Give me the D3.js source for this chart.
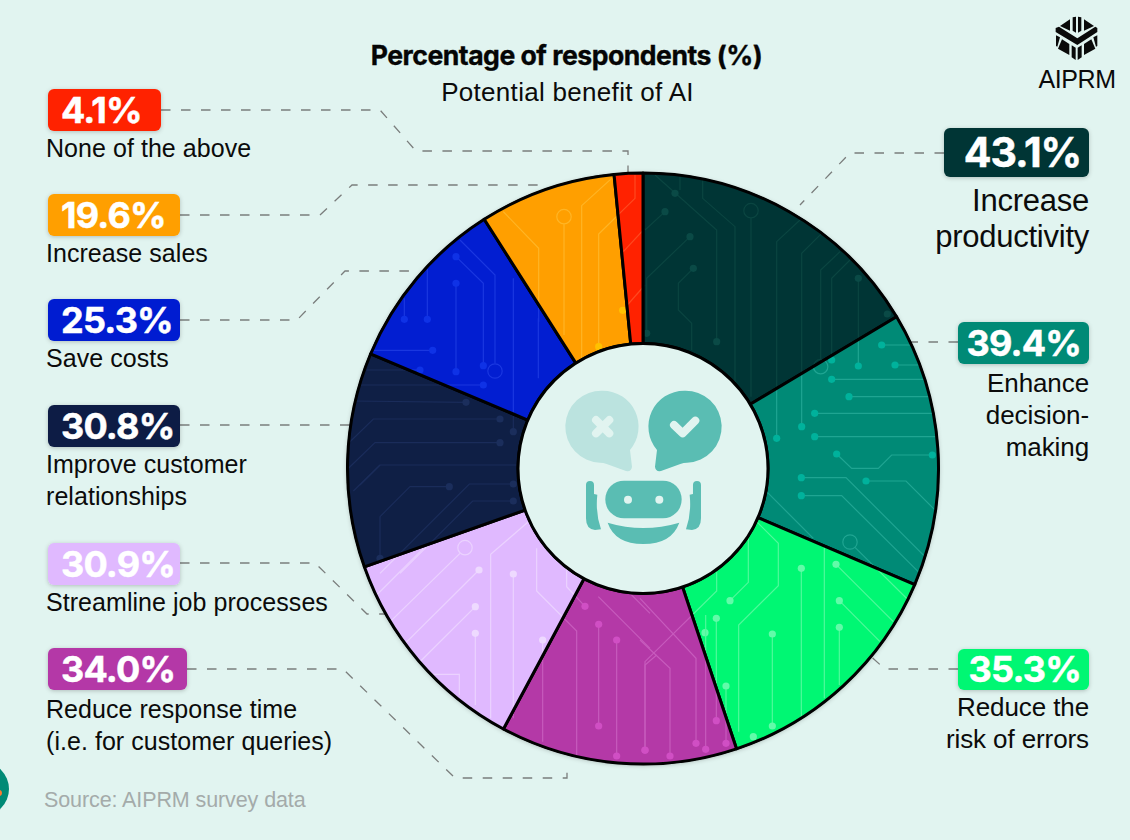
<!DOCTYPE html>
<html><head><meta charset="utf-8">
<script src="https://cdn.jsdelivr.net/npm/d3@7"></script>
<style>
html,body{margin:0;padding:0;background:#E1F4F0;}
svg{display:block;}
.lab{font-family:"Liberation Sans",sans-serif;fill:#0b0b0b;}
.val{font-family:Inter,sans-serif;font-weight:700;fill:#fff;stroke:#fff;stroke-width:.5;}
</style></head><body>
<svg id="c" width="1130" height="840"></svg>
<script>
// ---------- data ----------
const categories = ["Increase productivity","Enhance decision-making","Reduce the risk of errors",
  "Reduce response time (i.e. for customer queries)","Streamline job processes",
  "Improve customer relationships","Save costs","Increase sales","None of the above"];
const values = [43.1,39.4,35.3,34.0,30.9,30.8,25.3,19.6,4.1];
const labelLines = [["Increase","productivity"],["Enhance","decision-","making"],["Reduce the","risk of errors"],
  ["Reduce response time","(i.e. for customer queries)"],["Streamline job processes"],
  ["Improve customer","relationships"],["Save costs"],["Increase sales"],["None of the above"]];
const colors = ["#003535","#008A76","#00F773","#B439A7","#E0B9FF","#0F1F45","#021ED1","#FF9F00","#FF2200"];
const tintLine = ["#0A4541","#1FA592","#4FF99B","#C75BBD","#EBD2FF","#1A2C5A","#1A37E0","#FFB525","#FF4A20"];
const tintDot  = ["#0A4A46","#00B29C","#62FBA9","#D04FC4","#EEDAFF","#1B2E5C","#0F32E6","#FFC100","#FF4A20"];

// ---------- layout (annotation geometry, not data) ----------
const W=1130,H=840,cx=643,cy=468.5,R=295.5,r0=125;
const badges = [ // same order as categories
 {x:944,y:128,w:145,h:49,fs:41,right:true,ls:-1.1,lfs:31,lls:-.25,base:[211,247]},
 {x:958,y:322,w:131,h:42,fs:36,right:true,ls:-.8,lfs:26,lls:-.1,base:[392,424,456]},
 {x:958,y:649,w:131,h:41,fs:36,right:true,ls:-.8,lfs:26,lls:-.1,base:[716,748]},
 {x:48,y:648,w:139,h:42,fs:36,ls:-.8,lfs:25,lls:.05,base:[718,750]},
 {x:48,y:543,w:132,h:42,fs:36,ls:-.8,lfs:25,lls:.05,base:[611]},
 {x:48,y:405,w:132,h:42,fs:36,ls:-.8,lfs:25,lls:.05,base:[473,505]},
 {x:48,y:299,w:132,h:42,fs:36,ls:-.8,lfs:25,lls:.05,base:[367]},
 {x:48,y:194,w:132,h:42,fs:36,ls:-.8,lfs:25,lls:.05,base:[262]},
 {x:48,y:89,w:113,h:42,fs:36,ls:-.8,lfs:25,lls:.05,base:[157]}
];
const leaders = [
 [[944,153],[850,153],[800,205]],
 [[958,342],[908,342]],
 [[958,669],[885,669],[868,654]],
 [[187,669],[343,669],[455,778],[567,778],[567,765]],
 [[180,563],[315,563],[367,614],[392,614]],
 [[180,425],[352,425]],
 [[180,320],[297,320],[345,271],[415,271]],
 [[180,215],[320,215],[352,185],[545,185]],
 [[161,110],[380,110],[416,151],[628,151],[628,172]]
];
const O3=[640,170],O5=[340,165],O6=[340,465],O7=[640,465];
const traces=[
 [O3,[[45,15],[230,180],[230,515]],0,1],[O3,[[120,0],[120,60]],0,0],[O3,[[15,180],[75,125]],0,1],
 [O3,[[20,490],[20,325],[150,200]],1,1],[O3,[[155,540],[155,460],[115,420],[115,340],[160,295]],0,1],
 [O3,[[188,30],[188,85],[285,170],[285,650]],0,0],[O3,[[333,144],[333,680]],0,0],
 [O3,[[480,150],[410,215],[410,805]],0,1],[O3,[[545,190],[485,250],[485,770]],0,1],
 [O3,[[600,245],[542,300],[542,570]],0,0],[O3,[[630,270],[575,325],[575,570]],0,1],
 [O3,[[655,325],[655,588]],1,1],[O3,[[742,432],[742,433]],1,0],[O3,[[105,70],[105,71]],1,0],
 [O3,[[725,525],[900,525]],1,0],[O3,[[765,585],[900,585]],1,0],[O3,[[575,628],[900,628]],1,0],
 [O3,[[627,680],[900,680]],1,0],[O3,[[524,730],[900,730]],1,0],[O3,[[524,800],[900,800]],1,0],
 [O3,[[590,852],[635,895],[715,895],[755,855],[877,855]],1,1],
 [O7,[[484,38],[618,38],[860,280]],1,0],[O7,[[484,92],[605,92],[840,325]],1,0],
 [O7,[[678,48],[798,48],[890,140]],1,0],[O7,[[645,247],[830,430]],0,0],[O7,[[380,80],[520,220]],0,0],
 [O7,[[350,170],[415,235],[415,362],[296,480],[296,800]],0,0],[O7,[[270,407],[325,352],[325,210]],1,0],
 [O7,[[229,460],[229,767]],1,1],[O7,[[484,310],[484,760]],1,0],[O7,[[397,507],[397,783]],1,1],
 [O7,[[553,240],[553,700]],0,0],[O7,[[588,298],[760,470]],1,0],[O7,[[598,407],[720,530]],1,0],
 [O7,[[598,487],[598,660]],1,0],[O7,[[340,815],[340,816]],1,0],[O7,[[258,663],[258,835]],1,1],
 [O7,[[195,503],[195,504]],1,0],[O7,[[230,320],[230,378],[15,590],[15,856]],0,1],
 [O7,[[0,400],[168,580],[168,835]],0,1],[O7,[[0,525],[90,610],[90,873]],0,1],[O7,[[197,450],[197,853]],0,1],
 [O6,[[735,424],[680,365],[680,300]],1,0],[O6,[[590,250],[590,378],[710,498],[710,880]],0,0],
 [O6,[[776,478],[776,783]],1,1],[O6,[[830,525],[830,873]],1,1],[O6,[[775,395],[930,550]],0,0],
 [O6,[[870,385],[930,445]],0,0],[O6,[[950,570],[915,600],[915,855]],0,1],[O6,[[608,525],[608,830]],1,0],
 [O6,[[600,140],[452,268],[452,760]],0,0],[O6,[[520,327],[520,760]],1,0],[O6,[[360,265],[120,500]],0,0],
 [O6,[[417,315],[120,610]],1,0],[O6,[[406,425],[230,600]],1,0],[O6,[[406,505],[406,720]],1,0],
 [O6,[[250,250],[80,420]],0,0],[O6,[[358,690],[358,628],[270,628]],0,0],
 [O6,[[328,65],[210,65],[120,155],[120,280]],1,1],[O6,[[520,57],[388,57],[120,325]],1,0],
 [O6,[[520,108],[398,108],[180,325]],1,0],[O6,[[120,0],[40,78]],0,0],
 [O5,[[480,762],[100,762],[20,840]],1,0],[O5,[[480,833],[105,833],[20,915]],1,0],
 [O5,[[540,900],[120,900],[60,960]],0,0],[O5,[[378,712],[40,708]],1,0],[O5,[[60,660],[430,660]],0,1],
 [O5,[[80,615],[240,615]],0,1],[O5,[[520,800],[520,340]],1,0],
 [O5,[[348,275],[430,355],[430,602]],1,1],[O5,[[360,225],[465,330],[465,595]],0,0],
 [O5,[[348,355],[348,620]],1,1],[O5,[[262,310],[262,463]],0,1],[O5,[[193,400],[193,463]],0,1],
 [O5,[[100,556],[278,556]],0,1],[O5,[[595,460],[595,640]],0,0],
 [O5,[[490,140],[596,250],[596,470]],0,0],[O5,[[672,178],[672,510]],0,0],[O5,[[815,40],[725,122],[725,580]],0,0],
 [O5,[[885,30],[885,100],[776,207],[776,545]],0,1],[O5,[[848,436],[915,360]],1,0],[O5,[[915,190],[850,260]],0,0]
];
const rings=[[O3,333,122],[O3,542,590],[O7,630,231],[O6,375,248],[O5,465,618],[O5,672,155]];
const abs=(o,[x,y])=>[o[0]+x/3,o[1]+y/3];

// ---------- draw ----------
const svg=d3.select("#c");
const defs=svg.append("defs");
const sh=defs.append("filter").attr("id","sh").attr("x","-20%").attr("y","-20%").attr("width","140%").attr("height","140%");
sh.append("feDropShadow").attr("dx",0).attr("dy",1).attr("stdDeviation",2).attr("flood-color","#000").attr("flood-opacity",.22);
svg.append("rect").attr("width",W).attr("height",H).attr("fill","#E1F4F0");

// partially cropped emblem at the left edge
const emb=svg.append("g");
emb.append("circle").attr("cx",-18).attr("cy",789).attr("r",27).attr("fill","#008A76");
emb.append("circle").attr("cx",-1).attr("cy",793).attr("r",3).attr("fill","#FF7A30");

// leader lines
const ln=d3.line();
svg.append("g").selectAll("path").data(leaders).join("path")
  .attr("d",d=>ln(d)).attr("fill","none").attr("stroke","#7a7d7c").attr("stroke-width",1.3).attr("stroke-dasharray","9.5,10.5");

// pie
const pie=d3.pie().sort(null).value(d=>d)(values);
const arc=d3.arc().innerRadius(r0).outerRadius(R);
const chart=svg.append("g").attr("transform",`translate(${cx},${cy})`);
chart.append("circle").attr("r",R+1).attr("fill","#000").attr("filter","url(#sh)");
pie.forEach((p,i)=>{
  defs.append("clipPath").attr("id","w"+i).append("path").attr("d",arc(p));
});
const wedge=chart.selectAll("g.w").data(pie).join("g").attr("class","w");
wedge.append("path").attr("d",arc).attr("fill",(d,i)=>colors[i]);
wedge.each(function(p,i){
  const g=d3.select(this).append("g").attr("clip-path",`url(#w${i})`)
     .append("g").attr("transform",`translate(${-cx},${-cy})`);
  traces.forEach(([o,pts,d0,d1])=>{
    const a=pts.map(q=>abs(o,q));
    g.append("path").attr("d",ln(a)).attr("fill","none").attr("stroke",tintLine[i]).attr("stroke-width",1.2);
    if(d0) g.append("circle").attr("cx",a[0][0]).attr("cy",a[0][1]).attr("r",3.6).attr("fill",tintDot[i]);
    if(d1) g.append("circle").attr("cx",a[a.length-1][0]).attr("cy",a[a.length-1][1]).attr("r",3.6).attr("fill",tintDot[i]);
  });
  rings.forEach(([o,x,y])=>{
    const a=abs(o,[x,y]);
    g.append("circle").attr("cx",a[0]).attr("cy",a[1]).attr("r",7.2).attr("fill","none").attr("stroke",tintLine[i]).attr("stroke-width",1.2);
  });
});
wedge.append("path").attr("d",arc).attr("fill","none").attr("stroke","#000").attr("stroke-width",3).attr("stroke-linejoin","round");
chart.append("circle").attr("r",r0).attr("fill","#E1F4F0").attr("stroke","#000").attr("stroke-width",3);

// centre icon (3x crop coordinates)
const ic=svg.append("g").attr("transform","translate(540,370) scale(.3333)");
const M="#5ABDB3",L="#BBE3DF",B="#E1F4F0";
ic.append("path").attr("fill",L).attr("d","M188,62 A108,108 0 0 1 270,240 L276,290 Q274,306 258,303 L200,282 Q190,278 180,278 A108,108 0 0 1 188,62 Z");
ic.append("path").attr("d","M168,150 L208,190 M208,150 L168,190").attr("stroke",B).attr("stroke-width",24).attr("stroke-linecap","round");
ic.append("path").attr("fill",M).attr("d","M433,62 A108,108 0 0 0 351,240 L345,290 Q347,306 363,303 L421,282 Q431,278 441,278 A108,108 0 0 0 433,62 Z");
ic.append("path").attr("d","M402,165 L428,190 L466,152").attr("fill","none").attr("stroke",B).attr("stroke-width",24).attr("stroke-linecap","round").attr("stroke-linejoin","round");
ic.append("rect").attr("x",196).attr("y",332).attr("width",229).attr("height",113).attr("rx",56).attr("fill",M);
ic.selectAll("circle.e").data([264,358]).join("circle").attr("cx",d=>d).attr("cy",389).attr("r",12).attr("fill",B);
ic.append("path").attr("fill",M).attr("d","M203,458 Q310,490 418,458 Q395,522 310,522 Q225,522 203,458 Z");
ic.append("path").attr("fill",M).attr("d","M138,345 Q138,333 150,333 Q162,333 162,345 L162,372 L172,374 Q166,430 183,478 L165,480 Q138,478 138,445 Z");
ic.append("path").attr("fill",M).attr("d","M483,345 Q483,333 471,333 Q459,333 459,345 L459,372 L449,374 Q455,430 438,478 L456,480 Q483,478 483,445 Z");

// badges & labels
const bg=svg.selectAll("g.b").data(badges).join("g").attr("class","b");
bg.append("rect").attr("x",d=>d.x).attr("y",d=>d.y).attr("width",d=>d.w).attr("height",d=>d.h)
  .attr("rx",6).attr("fill",(d,i)=>colors[i]).attr("filter","url(#sh)");
bg.append("text").attr("class","val")
  .attr("x",d=>d.right?d.x+d.w-8:d.x+13)
  .attr("y",d=>d.y+d.h/2+d.fs*.36)
  .attr("text-anchor",d=>d.right?"end":"start")
  .attr("font-size",d=>d.fs).attr("letter-spacing",d=>d.ls)
  .text((d,i)=>d3.format(".1f")(values[i])+"%");
bg.each(function(d,i){
  labelLines[i].forEach((t,k)=>{
    d3.select(this).append("text").attr("class","lab")
      .attr("x",d.right?d.x+d.w:46).attr("y",d.base[k])
      .attr("text-anchor",d.right?"end":"start")
      .attr("font-size",d.lfs).attr("letter-spacing",d.lls).text(t);
  });
});

// titles
svg.append("text").attr("x",566.5).attr("y",65).attr("text-anchor","middle")
  .attr("font-family","Inter,sans-serif").attr("font-weight",700).attr("font-size",26.6).attr("letter-spacing",-.5)
  .attr("fill","#050505").attr("stroke","#050505").attr("stroke-width",.35)
  .text("Percentage of respondents (%)");
svg.append("text").attr("class","lab").attr("x",567.5).attr("y",101).attr("text-anchor","middle")
  .attr("font-size",26).attr("letter-spacing",.3).text("Potential benefit of AI");
svg.append("text").attr("x",44).attr("y",807).attr("font-family","Liberation Sans,sans-serif")
  .attr("font-size",21.5).attr("letter-spacing",-.1).attr("fill","#A4ABAA").text("Source: AIPRM survey data");

// logo (3x crop coordinates)
const lg=svg.append("g").attr("transform","translate(1020,0) scale(.3333)").attr("fill","#0a0a0a");
const logoShapes=[
 "M120,78 L150,58 L150,92 Z","M158,52 L168,50 L168,98 L158,92 Z","M174,50 L184,52 L184,92 L174,98 Z","M192,58 L222,78 L192,92 Z",
 "M107,84 L117,80 L172,115 L226,80 L232,84 L232,96 L172,135 L107,96 Z",
 "M108,106 L120,112 L112,140 L108,138 Z","M232,106 L220,112 L228,140 L232,138 Z",
 "M126,118 L148,132 L148,165 L114,146 Z","M214,118 L192,132 L192,165 L226,146 Z",
 "M155,136 L167,143 L167,180 L155,172 Z","M173,143 L185,136 L185,172 L173,180 Z"];
lg.selectAll("path").data(logoShapes).join("path").attr("d",d=>d);
svg.append("text").attr("x",1077).attr("y",88).attr("text-anchor","middle").attr("font-family","Liberation Sans,sans-serif")
  .attr("font-size",25).attr("letter-spacing",-.4).attr("fill","#0a0a0a").text("AIPRM");
</script>
</body></html>
